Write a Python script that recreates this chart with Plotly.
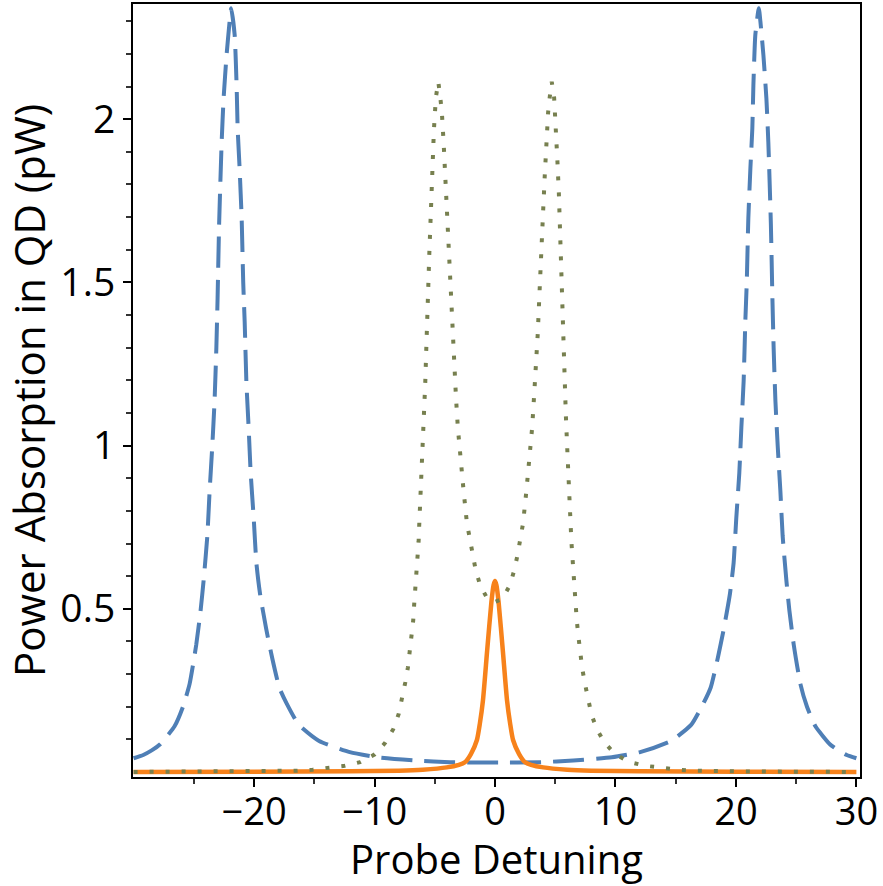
import plotly.graph_objects as go

# ---- data ----
blue_x = [-30.0, -29.2, -28.5, -27.8, -26.6, -25.9, -25.35, -24.8, -24.44, -24.19, -23.88, -23.69,
          -23.47, -23.28, -23.13, -23.03, -22.9, -22.69, -22.53, -22.28, -22.03, -21.9, -21.61,
          -21.45, -21.36, -21.2, -21.03, -20.9, -20.78, -20.64, -20.45, -20.28, -20.03, -19.81,
          -19.5, -19.0, -18.5, -17.9, -17.3, -16.3, -14.6, -12.05, -9.7, -6.5, -3.74, 0.0,
          3.74, 6.5, 9.7, 12.05, 14.6, 16.3, 17.3, 17.9, 18.5, 19.0, 19.5, 19.81, 20.03, 20.28,
          20.45, 20.64, 20.78, 20.9, 21.03, 21.2, 21.36, 21.45, 21.61, 21.9, 22.03, 22.28, 22.53,
          22.69, 22.9, 23.03, 23.13, 23.28, 23.47, 23.69, 23.88, 24.19, 24.44, 24.8, 25.35, 25.9,
          26.6, 27.8, 28.5, 29.2, 30.0]
blue_y = [0.042, 0.052, 0.066, 0.085, 0.140, 0.200, 0.270, 0.390, 0.494, 0.586, 0.723, 0.861,
          0.998, 1.136, 1.300, 1.450, 1.680, 1.930, 2.063, 2.197, 2.300, 2.340, 2.258,
          2.104, 1.970, 1.849, 1.696, 1.500, 1.380, 1.197, 1.054, 0.916, 0.778, 0.641,
          0.545, 0.440, 0.350, 0.258, 0.210, 0.145, 0.095, 0.061, 0.045, 0.035, 0.030, 0.029,
          0.030, 0.035, 0.045, 0.061, 0.095, 0.145, 0.210, 0.258, 0.350, 0.440, 0.545, 0.641,
          0.778, 0.916, 1.054, 1.197, 1.380, 1.500, 1.696, 1.849, 1.970, 2.104, 2.258, 2.340,
          2.300, 2.197, 2.063, 1.930, 1.680, 1.450, 1.300, 1.136, 0.998, 0.861, 0.723, 0.586,
          0.494, 0.390, 0.270, 0.200, 0.140, 0.085, 0.066, 0.052, 0.042]

dot_x = [-30.0, -24.0, -20.0, -17.6, -16.4, -15.13, -13.72, -12.47, -11.2, -9.98, -9.12, -8.45,
         -8.0, -7.71, -7.46, -7.23, -7.07, -6.92, -6.79, -6.71, -6.6, -6.51, -6.43, -6.34, -6.29,
         -6.23, -6.15, -6.09, -6.04, -5.99, -5.88, -5.79, -5.71, -5.59, -5.54, -5.46, -5.38,
         -5.30, -5.18, -5.07, -4.91, -4.71, -4.55, -4.41, -4.26, -4.13, -4.01, -3.91, -3.80,
         -3.66, -3.55, -3.41, -3.24, -3.08, -2.88, -2.60, -2.33, -2.10, -1.87, -1.60, -1.23,
         -0.62, 0.0,
         0.62, 1.23, 1.60, 1.87, 2.10, 2.33, 2.60, 2.88, 3.08, 3.24, 3.41, 3.55, 3.66, 3.80,
         3.91, 4.01, 4.13, 4.26, 4.41, 4.55, 4.71, 4.91, 5.07, 5.18, 5.30, 5.38, 5.46, 5.54,
         5.59, 5.71, 5.79, 5.88, 5.99, 6.04, 6.09, 6.15, 6.23, 6.29, 6.34, 6.43, 6.51, 6.6,
         6.71, 6.79, 6.92, 7.07, 7.23, 7.46, 7.71, 8.0, 8.45, 9.12, 9.98, 11.2, 12.47, 13.72,
         15.13, 16.4, 17.6, 20.0, 24.0, 30.0]
dot_y = [0.000, 0.001, 0.002, 0.003, 0.004, 0.007, 0.012, 0.019, 0.030, 0.054, 0.089, 0.131,
         0.177, 0.224, 0.272, 0.320, 0.368, 0.417, 0.464, 0.513, 0.561, 0.610, 0.658, 0.707, 0.756,
         0.804, 0.853, 0.901, 0.950, 0.998, 1.095, 1.192, 1.289, 1.386, 1.485, 1.580, 1.677,
         1.775, 1.873, 1.968, 2.066, 2.115, 2.070, 2.021, 1.925, 1.827, 1.730, 1.635, 1.537,
         1.439, 1.343, 1.246, 1.149, 1.053, 0.956, 0.859, 0.762, 0.714, 0.665, 0.618, 0.572,
         0.530, 0.521,
         0.530, 0.572, 0.618, 0.665, 0.714, 0.762, 0.859, 0.956, 1.053, 1.149, 1.246, 1.343,
         1.439, 1.537, 1.635, 1.730, 1.827, 1.925, 2.021, 2.070, 2.115, 2.066, 1.968, 1.873,
         1.775, 1.677, 1.580, 1.485, 1.386, 1.289, 1.192, 1.095, 0.998, 0.950, 0.901, 0.853,
         0.804, 0.756, 0.707, 0.658, 0.610, 0.561, 0.513, 0.464, 0.417, 0.368, 0.320, 0.272,
         0.224, 0.177, 0.131, 0.089, 0.054, 0.030, 0.019, 0.012, 0.007, 0.004, 0.003, 0.002,
         0.001, 0.000]

orange_x = [-30.0, -20.0, -12.0, -8.0, -6.0, -4.0, -3.0, -2.5, -2.0, -1.5, -1.25, -1.0, -0.65,
            -0.3, -0.12, 0.0, 0.12, 0.3, 0.65, 1.0, 1.25, 1.5, 2.0, 2.5, 3.0, 4.0, 6.0, 8.0,
            12.0, 20.0, 30.0]
orange_y = [0.000, 0.001, 0.002, 0.004, 0.007, 0.014, 0.022, 0.030, 0.055, 0.098, 0.150, 0.219,
            0.372, 0.520, 0.572, 0.585, 0.572, 0.520, 0.372, 0.219, 0.150, 0.098, 0.055, 0.030,
            0.022, 0.014, 0.007, 0.004, 0.002, 0.001, 0.000]

x_major = [-20, -10, 0, 10, 20, 30]
x_minor = [-25, -15, -5, 5, 15, 25]
y_major = [0.5, 1, 1.5, 2]
y_labels = ["0.5", "1", "1.5", "2"]
y_minor = [0.1, 0.2, 0.3, 0.4, 0.6, 0.7, 0.8, 0.9, 1.1, 1.2, 1.3, 1.4, 1.6, 1.7, 1.8, 1.9,
           2.1, 2.2, 2.3]

FONT = "Open Sans"

fig = go.Figure()
fig.add_trace(go.Scatter(x=blue_x, y=blue_y, mode="lines",
                         line=dict(color="#4f7fb6", width=4, dash="31px,12px",
                                   shape="spline", smoothing=0.5)))
fig.add_trace(go.Scatter(x=orange_x, y=orange_y, mode="lines",
                         line=dict(color="#f7821b", width=4.5, shape="spline", smoothing=0.6)))
fig.add_trace(go.Scatter(x=dot_x, y=dot_y, mode="lines",
                         line=dict(color="#77804f", width=4, dash="4px,12px")))

fig.update_layout(
    width=883, height=886,
    margin=dict(l=133, r=23, t=2, b=109),
    paper_bgcolor="white", plot_bgcolor="white",
    showlegend=False,
    font=dict(family=FONT, size=40, color="black"),
)
fig.update_xaxes(
    range=[-30.05, 30.3], showgrid=False, zeroline=False,
    showline=True, linecolor="black", linewidth=2, mirror=True,
    tickmode="array", tickvals=x_major, ticks="outside", ticklen=8, tickwidth=1.5,
    tickcolor="black", tickfont=dict(family=FONT, size=38), ticklabelstandoff=-8,
    minor=dict(tickmode="array", tickvals=x_minor, ticks="outside", ticklen=5,
               tickwidth=1.5, tickcolor="#333"),
    title=dict(text="Probe Detuning", font=dict(family=FONT, size=40), standoff=13),
)
fig.update_yaxes(
    range=[-0.0154, 2.353], showgrid=False, zeroline=False,
    showline=True, linecolor="black", linewidth=2, mirror=True,
    tickmode="array", tickvals=y_major, ticktext=y_labels,
    ticks="outside", ticklen=8, tickwidth=1.5,
    tickcolor="black", tickfont=dict(family=FONT, size=39),
    minor=dict(tickmode="array", tickvals=y_minor, ticks="outside", ticklen=5,
               tickwidth=1.5, tickcolor="#333"),
    title=dict(text="Power Absorption in QD (pW)", font=dict(family=FONT, size=42), standoff=6),
)

fig.write_html("out.html")
